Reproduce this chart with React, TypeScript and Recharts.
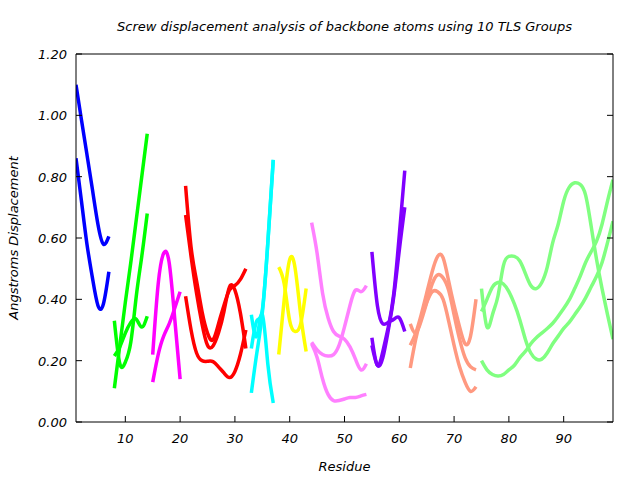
import React from "react";
import { LineChart, Line, XAxis, YAxis } from "recharts";

// first residue of each TLS group
const groupStart = [1, 8, 15, 21, 33, 38, 44, 55, 62, 75];
const groupColors = [
	"#0000ff",
	"#00ff00",
	"#ff00ff",
	"#ff0000",
	"#00ffff",
	"#ffff00",
	"#ff80ff",
	"#8000ff",
	"#ff9980",
	"#80ff80",
];

// screw displacement per residue (Angstroms), up to three curves per group
const tls1 = [
	[1.1, 0.985, 0.872, 0.758, 0.645, 0.58, 0.605],
	[0.86, 0.72, 0.58, 0.47, 0.38, 0.385, 0.49],
];
const tls2 = [
	[0.11, 0.25, 0.39, 0.52, 0.66, 0.8, 0.94],
	[0.33, 0.19, 0.195, 0.26, 0.41, 0.54, 0.68],
	[0.215, 0.245, 0.29, 0.325, 0.335, 0.31, 0.345],
];
const tls3 = [
	[0.22, 0.45, 0.55, 0.52, 0.34, 0.14],
	[0.13, 0.22, 0.28, 0.32, 0.37, 0.425],
];
const tls4 = [
	[0.77, 0.57, 0.46, 0.36, 0.29, 0.268, 0.32, 0.38, 0.43, 0.445, 0.465, 0.5],
	[0.675, 0.54, 0.42, 0.32, 0.25, 0.248, 0.29, 0.36, 0.44, 0.43, 0.355, 0.24],
	[0.41, 0.3, 0.225, 0.2, 0.198, 0.197, 0.18, 0.16, 0.145, 0.165, 0.22, 0.3],
];
const tls5 = [
	[0.095, 0.225, 0.355, 0.58, 0.855],
	[0.35, 0.28, 0.35, 0.19, 0.062],
	[0.24, 0.33, 0.365, 0.585, 0.855],
];
const tls6 = [
	[0.505, 0.45, 0.33, 0.295, 0.32, 0.435],
	[0.22, 0.4, 0.53, 0.5, 0.35, 0.23],
];
const tls7 = [
	[0.65, 0.55, 0.42, 0.34, 0.295, 0.28, 0.27, 0.245, 0.205, 0.17, 0.19],
	[0.26, 0.235, 0.22, 0.215, 0.22, 0.25, 0.31, 0.38, 0.43, 0.425, 0.445],
	[0.255, 0.21, 0.14, 0.09, 0.07, 0.07, 0.075, 0.08, 0.08, 0.085, 0.09],
];
const tls8 = [
	[0.555, 0.38, 0.32, 0.325, 0.335, 0.34, 0.295],
	[0.275, 0.185, 0.23, 0.31, 0.42, 0.61, 0.82],
	[0.25, 0.185, 0.21, 0.3, 0.41, 0.56, 0.7],
];
const tls9 = [
	[0.25, 0.29, 0.35, 0.42, 0.49, 0.54, 0.535, 0.46, 0.38, 0.31, 0.255, 0.28, 0.4],
	[0.32, 0.29, 0.33, 0.39, 0.45, 0.48, 0.47, 0.43, 0.35, 0.27, 0.21, 0.18, 0.17],
	[0.176, 0.27, 0.34, 0.39, 0.425, 0.425, 0.4, 0.33, 0.25, 0.18, 0.13, 0.1, 0.115],
];
const tls10 = [
	[0.435, 0.31, 0.35, 0.41, 0.51, 0.54, 0.54, 0.525, 0.485, 0.445, 0.435, 0.455, 0.505,
		0.585, 0.645, 0.72, 0.765, 0.78, 0.775, 0.74, 0.64, 0.53, 0.435, 0.35, 0.27],
	[0.36, 0.4, 0.44, 0.455, 0.45, 0.425, 0.385, 0.333, 0.27, 0.225, 0.205, 0.205, 0.225,
		0.255, 0.28, 0.305, 0.325, 0.35, 0.375, 0.405, 0.44, 0.475, 0.52, 0.585, 0.655],
	[0.2, 0.17, 0.155, 0.15, 0.155, 0.17, 0.185, 0.21, 0.23, 0.255, 0.275, 0.29, 0.305,
		0.322, 0.345, 0.37, 0.398, 0.435, 0.475, 0.52, 0.555, 0.59, 0.645, 0.72, 0.79],
];

const groups = [tls1, tls2, tls3, tls4, tls5, tls6, tls7, tls8, tls9, tls10];
const xTicks = [10, 20, 30, 40, 50, 60, 70, 80, 90];
const yTicks = [0, 0.2, 0.4, 0.6, 0.8, 1.0, 1.2];

const FONT = "'DejaVu Sans', sans-serif";

// gnuplot style: tick marks point into the plot, labels sit outside
const BottomTick = (props: any) => {
	const { x, y, payload } = props;
	return (
		<g>
			<line x1={x} x2={x} y1={y} y2={y - 6} stroke="#000" />
			<text x={x} y={y + 21} textAnchor="middle" fontFamily={FONT} fontSize={13} fontStyle="italic" fill="#000">
				{payload.value}
			</text>
		</g>
	);
};
const LeftTick = (props: any) => {
	const { x, y, payload } = props;
	return (
		<g>
			<line x1={x} x2={x + 6} y1={y} y2={y} stroke="#000" />
			<text x={x - 9} y={y + 5} textAnchor="end" fontFamily={FONT} fontSize={13} fontStyle="italic" fill="#000">
				{payload.value.toFixed(2)}
			</text>
		</g>
	);
};
const TopTick = (props: any) => {
	const { x, y } = props;
	return <line x1={x} x2={x} y1={y} y2={y + 6} stroke="#000" />;
};
const RightTick = (props: any) => {
	const { x, y } = props;
	return <line x1={x} x2={x - 6} y1={y} y2={y} stroke="#000" />;
};

export default function App() {
	const series: { key: string; color: string; pts: { x: number; y: number }[] }[] = [];
	groups.forEach((curves, g) => {
		curves.forEach((vals, c) => {
			series.push({
				key: `g${g}-c${c}`,
				color: groupColors[g],
				pts: vals.map((y, i) => ({ x: groupStart[g] + i, y })),
			});
		});
	});

	const labelStyle: React.CSSProperties = {
		position: "absolute",
		textAlign: "center",
		fontFamily: FONT,
		fontSize: 13,
		fontStyle: "italic",
		lineHeight: "16px",
	};

	return (
		<div style={{ position: "absolute", left: 0, top: 0, width: 640, height: 480, background: "#fff" }}>
			<LineChart
				width={640}
				height={480}
				margin={{ top: 44, right: 17, bottom: 18, left: 16 }}>
				<XAxis
					xAxisId="b"
					dataKey="x"
					type="number"
					domain={[1, 99]}
					ticks={xTicks}
					height={40}
					tickSize={0}
					tickMargin={0}
					tickLine={false}
					stroke="#000"
					tick={<BottomTick />}
					allowDataOverflow
				/>
				<XAxis
					xAxisId="t"
					orientation="top"
					type="number"
					domain={[1, 99]}
					ticks={xTicks}
					height={10}
					tickSize={0}
					tickMargin={0}
					tickLine={false}
					tick={<TopTick />}
					stroke="#000"
					allowDataOverflow
				/>
				<YAxis
					yAxisId="l"
					type="number"
					domain={[0, 1.2]}
					ticks={yTicks}
					width={60}
					tickSize={0}
					tickMargin={0}
					tickLine={false}
					stroke="#000"
					tick={<LeftTick />}
					allowDataOverflow
				/>
				<YAxis
					yAxisId="r"
					orientation="right"
					type="number"
					domain={[0, 1.2]}
					ticks={yTicks}
					width={10}
					tickSize={0}
					tickMargin={0}
					tickLine={false}
					tick={<RightTick />}
					stroke="#000"
					allowDataOverflow
				/>
				{series.map((s) => (
					<Line
						key={s.key}
						xAxisId="b"
						yAxisId="l"
						data={s.pts}
						dataKey="y"
						type="natural"
						stroke={s.color}
						strokeWidth={3.5}
						dot={false}
						activeDot={false}
						isAnimationActive={false}
					/>
				))}
			</LineChart>
			<div style={{ ...labelStyle, left: 76, width: 537, top: 19 }}>
				Screw displacement analysis of backbone atoms using 10 TLS Groups
			</div>
			<div style={{ ...labelStyle, left: 76, width: 537, top: 459 }}>Residue</div>
			<div
				style={{
					...labelStyle,
					left: 14 - 100,
					top: 238 - 8,
					width: 200,
					transform: "rotate(-90deg)",
				}}>
				Angstroms Displacement
			</div>
		</div>
	);
}
